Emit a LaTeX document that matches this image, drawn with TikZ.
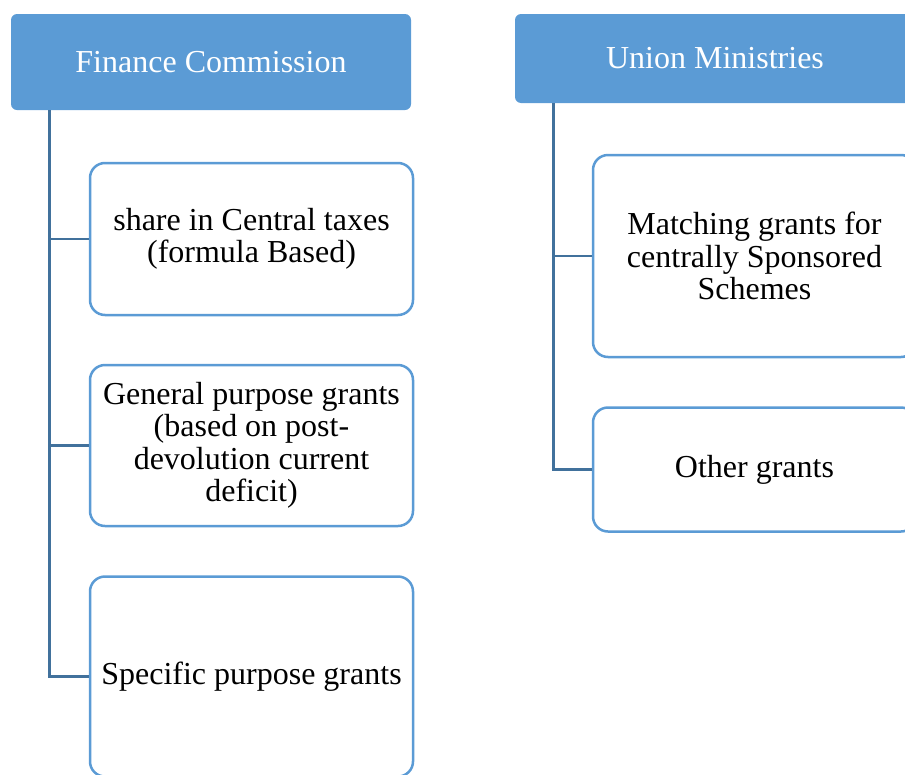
\documentclass[tikz,border=0pt]{standalone}
\usepackage{fontspec}
\setmainfont{Liberation Serif}
\usepackage{xcolor}
\usepackage{tikz}
\usetikzlibrary{positioning}

\definecolor{headblue}{RGB}{91,155,213}
\definecolor{linkblue}{RGB}{65,113,156}

\begin{document}
\begin{tikzpicture}[x=1pt, y=-1pt, thick,
    headbox/.style={rectangle, fill=headblue, rounded corners=6pt, text=white,
        minimum width=400pt, font=\fontsize{32}{33}\selectfont},
    grantbox/.style={rectangle, draw=headblue, line width=2.5pt, fill=white,
        rounded corners=15pt, align=center, inner xsep=2pt,
        minimum width=323pt, font=\fontsize{32}{32.5}\selectfont},
    link/.style={draw=linkblue, line width=2.5pt}]

    \useasboundingbox (0,0) rectangle (905,774);
    \clip (0,0) rectangle (905,774);

    % Nodes
    \node (FC) [headbox, minimum height=96pt] at (211,62) {Finance Commission};
    \node (UM) [headbox, minimum height=89pt] at (715,58.5) {Union Ministries};

    \node (Share) [grantbox, minimum height=152pt] at (251.5,239)
        {share in Central taxes\\(formula Based)};
    \node (General) [grantbox, minimum height=161pt, below=47.5pt of Share]
        {General purpose grants\\(based on post-\\devolution current\\deficit)};
    \node (Specific) [grantbox, minimum height=200pt, below=48pt of General]
        {Specific purpose grants};

    \node (Matching) [grantbox, minimum height=202pt] at (754.5,256)
        {Matching grants for\\centrally Sponsored\\Schemes};
    \node (Other) [grantbox, minimum height=124pt, below=48pt of Matching]
        {Other grants};

    % Tree lines
    \coordinate (FCtrunk) at ([xshift=39pt]FC.south west);
    \coordinate (UMtrunk) at ([xshift=39pt]UM.south west);

    \draw [link] (FCtrunk) |- (Share.west);
    \draw [link] (FCtrunk) |- (General.west);
    \draw [link] (FCtrunk) |- (Specific.west);

    \draw [link] (UMtrunk) |- (Matching.west);
    \draw [link] (UMtrunk) |- (Other.west);

\end{tikzpicture}
\end{document}
